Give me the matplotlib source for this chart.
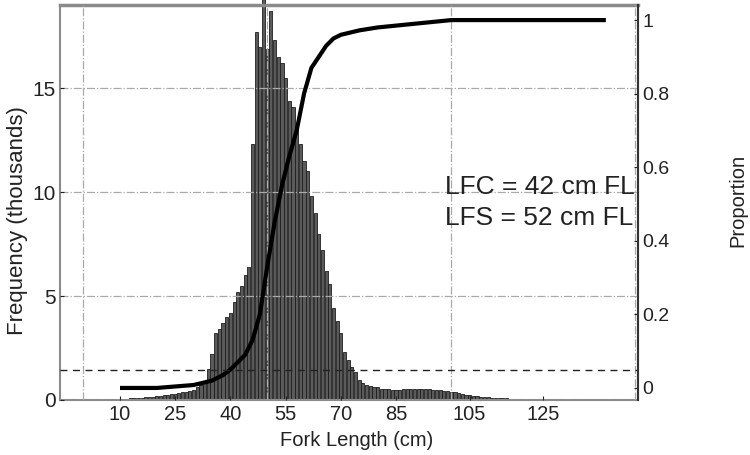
import matplotlib
matplotlib.use('Agg')
import matplotlib.pyplot as plt
import numpy as np

plt.rcParams['font.family'] = ['Liberation Sans', 'DejaVu Sans']

# fork length bins (cm) and catch frequency (thousands)
length = list(range(10, 141))
freq = [
    0.05, 0.05, 0.06, 0.07, 0.08, 0.10, 0.10, 0.12, 0.14, 0.16,   # 10-19
    0.18, 0.20, 0.22, 0.25, 0.28, 0.30, 0.33, 0.36, 0.40, 0.45,   # 20-29
    0.50, 0.60, 0.70, 0.80, 1.50, 2.20, 3.20, 3.40, 3.70, 4.00,   # 30-39
    4.20, 4.70, 5.20, 5.50, 6.00, 6.40, 12.3, 17.7, 17.0, 19.5,   # 40-49
    16.9, 18.7, 17.3, 16.5, 16.2, 15.5, 14.4, 14.1, 13.2, 12.3,   # 50-59
    11.5, 11.0, 9.80, 9.00, 8.00, 7.20, 6.20, 5.60, 4.40, 3.80,   # 60-69
    3.20, 2.30, 1.90, 1.60, 1.35, 0.96, 0.80, 0.70, 0.65, 0.60,   # 70-79
    0.60, 0.55, 0.55, 0.52, 0.50, 0.50, 0.50, 0.52, 0.52, 0.55,   # 80-89
    0.55, 0.55, 0.55, 0.52, 0.52, 0.50, 0.50, 0.48, 0.45, 0.42,   # 90-99
    0.40, 0.36, 0.32, 0.28, 0.25, 0.22, 0.20, 0.18, 0.16, 0.14,   # 100-109
    0.12, 0.11, 0.10, 0.09, 0.08, 0.07, 0.06, 0.06, 0.05, 0.05,   # 110-119
    0.04, 0.04, 0.04, 0.03, 0.03, 0.03, 0.02, 0.02, 0.02, 0.02,   # 120-129
    0.02, 0.01, 0.01, 0.01, 0.01, 0.01, 0.01, 0.01, 0.01, 0.01,   # 130-139
    0.01,                                                         # 140
]

# selectivity curve (proportion retained)
sel_len = [10, 20, 30, 35, 38, 40, 42, 44, 46, 48, 50, 52, 54, 56, 58,
           60, 62, 64, 66, 68, 70, 75, 80, 85, 90, 95, 100, 110, 120, 130, 142]
sel_prop = [0.0, 0.0, 0.008, 0.02, 0.035, 0.05, 0.07, 0.09, 0.13, 0.2, 0.33,
            0.45, 0.55, 0.63, 0.70, 0.80, 0.87, 0.90, 0.93, 0.95, 0.96,
            0.972, 0.98, 0.985, 0.99, 0.995, 1.0, 1.0, 1.0, 1.0, 1.0]

xticks = [10, 25, 40, 55, 70, 85, 105, 125]
xgrid = [0, 50, 100, 150]

fig = plt.figure(figsize=(7.5, 4.55), dpi=100)
ax1 = fig.add_axes([0.08, 0.121, 0.771, 0.868])

bars = ax1.bar(length, freq, width=0.85, color='#5a5a5a', edgecolor='#1e1e1e', linewidth=0.6)
for b in bars:
    b.set_clip_on(False)   # tallest bar pokes through the top like in the original
ax1.set_xlim(-6.3, 150.8)
ax1.set_ylim(0, 19.0)
ax1.set_xticks(xticks)
ax1.set_xticks(xgrid, minor=True)
ax1.set_yticks([0, 5, 10, 15])
ax1.tick_params(axis='x', which='major', labelsize=14.5, direction='in', length=3,
                colors='#222222')
ax1.tick_params(axis='y', which='major', labelsize=15, direction='in', length=3,
                colors='#222222', pad=3)
ax1.tick_params(axis='x', which='minor', length=0)
ax1.set_axisbelow(False)
ax1.grid(axis='y', which='major', color='#aaaaaa', linestyle='-.', linewidth=0.9)
ax1.grid(axis='x', which='minor', color='#aaaaaa', linestyle='-.', linewidth=0.9)
for s in ax1.spines.values():
    s.set_color('#8a8a8a')
    s.set_linewidth(1.5)
ax1.spines['top'].set_linewidth(2.5)

ax2 = ax1.twinx()
ax2.plot(sel_len, sel_prop, color='black', linewidth=3.0, solid_capstyle='butt')
ax2.axhline(0.05, color='#222222', linestyle=(0, (5, 4)), linewidth=1.0)
ax2.set_ylim(-0.0326, 1.041)
ax2.set_yticks([0, 0.2, 0.4, 0.6, 0.8, 1])
ax2.set_yticklabels(['0', '0.2', '0.4', '0.6', '0.8', '1'])
ax2.tick_params(axis='y', labelsize=14, direction='in', length=3, pad=3, colors='#222222')
for s in ax2.spines.values():
    s.set_visible(False)
ax2.spines['right'].set_visible(True)
ax2.spines['right'].set_color('#333333')
ax2.spines['right'].set_linewidth(1.5)

ax1.text(0.666, 0.539, 'LFC = 42 cm FL', transform=ax1.transAxes, fontsize=19,
         color='#222222', va='center', ha='left')
ax1.text(0.666, 0.461, 'LFS = 52 cm FL', transform=ax1.transAxes, fontsize=19,
         color='#222222', va='center', ha='left')

fig.text(0.023, 0.516, 'Frequency (thousands)', rotation=90, fontsize=16,
         color='#222222', va='center', ha='center')
fig.text(0.984, 0.56, 'Proportion', rotation=90, fontsize=14.5,
         color='#222222', va='center', ha='center')
fig.text(0.476, 0.031, 'Fork Length (cm)', fontsize=14.5, color='#222222',
         va='center', ha='center')

fig.savefig('out.png', dpi=100)
